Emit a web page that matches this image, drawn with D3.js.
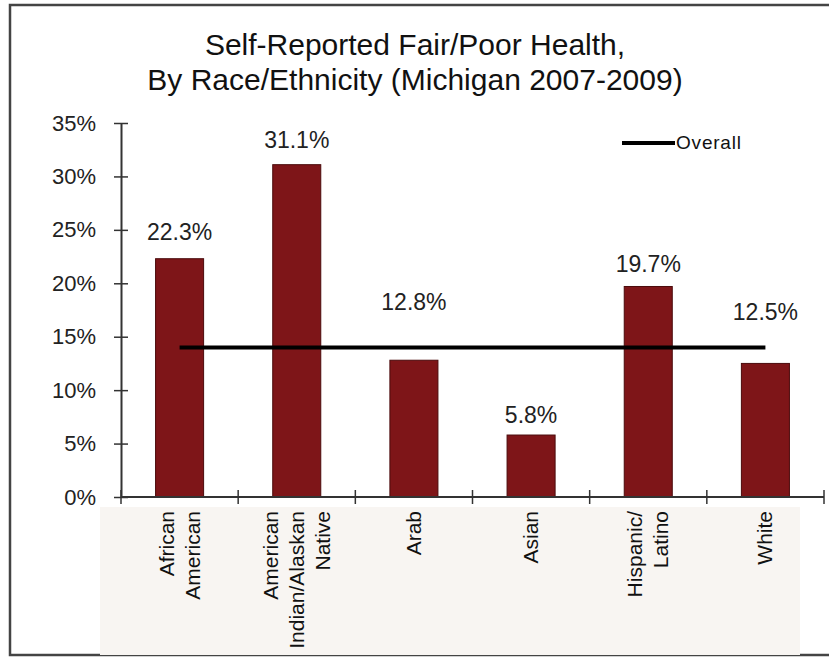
<!DOCTYPE html>
<html>
<head>
<meta charset="utf-8">
<script src="https://cdn.jsdelivr.net/npm/d3@7"></script>
<style>
  body { margin: 0; background: #fff; }
  svg { display: block; font-family: "Liberation Sans", Arial, sans-serif; }
</style>
</head>
<body>
<svg id="chart" width="829" height="658"></svg>
<script>
// data
const categories = [
  ["African", "American"],
  ["American", "Indian/Alaskan", "Native"],
  ["Arab"],
  ["Asian"],
  ["Hispanic/", "Latino"],
  ["White"]
];
const fairPoor = [22.3, 31.1, 12.8, 5.8, 19.7, 12.5];
const overall = 14.0;
const yTicks = [0, 5, 10, 15, 20, 25, 30, 35];
const titleLines = ["Self-Reported Fair/Poor Health,", "By Race/Ethnicity (Michigan 2007-2009)"];

// how far each value label sits above its bar (px)
const labelLift = [19, 17, 50, 12, 14, 43];

const svg = d3.select("#chart");
const plot = { left: 121, right: 824, top: 123, bottom: 497 };

// outer frame
svg.append("rect")
  .attr("x", 10).attr("y", 5).attr("width", 840).attr("height", 650)
  .attr("fill", "#fff").attr("stroke", "#444").attr("stroke-width", 2.5);

// shaded area behind category labels
svg.append("rect")
  .attr("x", 100).attr("y", 507).attr("width", 700).attr("height", 148)
  .attr("fill", "#f8f5f2");

// title
svg.append("g").selectAll("text")
  .data(titleLines)
  .join("text")
  .attr("x", 415)
  .attr("y", (d, i) => 55 + i * 35)
  .attr("text-anchor", "middle")
  .attr("font-size", "30px")
  .attr("fill", "#111")
  .text(d => d);

const keys = categories.map(c => c.join(" "));
const x = d3.scaleBand()
  .domain(keys)
  .range([plot.left, plot.right])
  .paddingInner(0.59)
  .paddingOuter(0.295);

const y = d3.scaleLinear()
  .domain([0, 35])
  .range([plot.bottom, plot.top]);

// bars
svg.append("g").selectAll("rect")
  .data(fairPoor)
  .join("rect")
  .attr("x", (d, i) => x(keys[i]))
  .attr("y", d => y(d))
  .attr("width", x.bandwidth())
  .attr("height", d => y(0) - y(d))
  .attr("fill", "#7e1518")
  .attr("stroke", "#4b0b0c")
  .attr("stroke-width", 1);

// value labels
svg.append("g").selectAll("text")
  .data(fairPoor)
  .join("text")
  .attr("x", (d, i) => x(keys[i]) + x.bandwidth() / 2)
  .attr("y", (d, i) => y(d) - labelLift[i])
  .attr("text-anchor", "middle")
  .attr("font-size", "23px")
  .attr("fill", "#222")
  .text(d => d.toFixed(1) + "%");

// overall line
const line = d3.line()
  .x(d => x(d) + x.bandwidth() / 2)
  .y(() => y(overall));
svg.append("path")
  .datum([keys[0], keys[keys.length - 1]])
  .attr("d", line)
  .attr("fill", "none")
  .attr("stroke", "#000")
  .attr("stroke-width", 4);

// y axis
const yAxis = d3.axisLeft(y)
  .tickValues(yTicks)
  .tickSize(0)
  .tickFormat(d => d + "%");
const gy = svg.append("g")
  .attr("transform", `translate(${plot.left},0)`)
  .call(yAxis);
gy.select(".domain").attr("stroke", "#333").attr("stroke-width", 2);
gy.selectAll(".tick line")
  .attr("x1", -7).attr("x2", 7)
  .attr("stroke", "#333").attr("stroke-width", 1.5);
gy.selectAll(".tick text")
  .attr("x", -25)
  .attr("font-size", "22px")
  .attr("font-family", "Liberation Sans, Arial, sans-serif")
  .attr("fill", "#222");

// x axis: line with crossing ticks at band boundaries
const gap = x.step() - x.bandwidth();
const bounds = keys.map(k => x(k) - gap / 2).concat([plot.right]);
const gx = svg.append("g");
gx.append("line")
  .attr("x1", plot.left).attr("x2", plot.right)
  .attr("y1", y(0)).attr("y2", y(0))
  .attr("stroke", "#333").attr("stroke-width", 2);
gx.selectAll("line.tk")
  .data(bounds)
  .join("line")
  .attr("class", "tk")
  .attr("x1", d => d).attr("x2", d => d)
  .attr("y1", y(0) - 7).attr("y2", y(0) + 7)
  .attr("stroke", "#333").attr("stroke-width", 1.5);

// category labels, rotated
const lineGap = 26;
categories.forEach((lines, i) => {
  const cx = x(keys[i]) + x.bandwidth() / 2;
  const n = lines.length;
  lines.forEach((txt, j) => {
    const lx = cx + (j - (n - 1) / 2) * lineGap + 7;
    svg.append("text")
      .attr("transform", `translate(${lx},511) rotate(-90)`)
      .attr("text-anchor", "end")
      .attr("font-size", "21px")
      .attr("fill", "#111")
      .text(txt);
  });
});

// legend
const lg = svg.append("g");
lg.append("line")
  .attr("x1", 622).attr("x2", 675)
  .attr("y1", 143).attr("y2", 143)
  .attr("stroke", "#000").attr("stroke-width", 4);
lg.append("text")
  .attr("x", 676).attr("y", 149)
  .attr("font-size", "19px")
  .attr("letter-spacing", "0.8px")
  .attr("fill", "#111")
  .text("Overall");
</script>
</body>
</html>
